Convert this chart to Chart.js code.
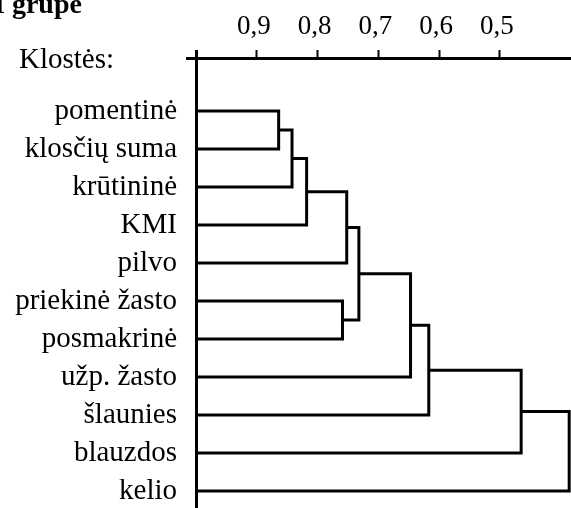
<!DOCTYPE html>
<html lang="lt">
<head>
<meta charset="UTF-8">
<title>Klostės</title>
<style>
  html, body { margin: 0; padding: 0; background: #fff; }
  #box { width: 571px; height: 508px; }
</style>
</head>
<body>
<div id="box"><canvas id="grafikas" width="571" height="508"></canvas></div>
<script src="https://cdn.jsdelivr.net/npm/chart.js"></script>
<script>
// lapai (kintamieji) iš viršaus į apačią
const lapai = ['pomentinė', 'klosčių suma', 'krūtininė', 'KMI', 'pilvo',
  'priekinė žasto', 'posmakrinė', 'užp. žasto', 'šlaunies', 'blauzdos', 'kelio'];

// jungimai: mazgai 0-10 yra lapai, kiekvienas jungimas sukuria naują mazgą 11, 12, ...
const jungA = [0, 11, 12, 5, 13, 15, 16, 17, 18, 19];
const jungB = [1, 2, 3, 6, 4, 14, 7, 8, 9, 10];
const jungAukstis = [0.864, 0.842, 0.818, 0.759, 0.752, 0.732, 0.647, 0.617, 0.465, 0.386];

// ašies žymos
const asiesZymos = [0.9, 0.8, 0.7, 0.6, 0.5];

const xMax = 1.0;
const xMin = 0.383;
const yMin = -1.395;
const yMax = 10.447;

// mazgų padėtys
const mazgoY = lapai.map((_, i) => i);
const mazgoH = lapai.map(() => 1.0);
const linijos = [];
for (let i = 0; i < jungA.length; i++) {
  const a = jungA[i], b = jungB[i], h = jungAukstis[i];
  linijos.push({
    data: [
      { x: mazgoH[a], y: mazgoY[a] },
      { x: h, y: mazgoY[a] },
      { x: h, y: mazgoY[b] },
      { x: mazgoH[b], y: mazgoY[b] }
    ],
    showLine: true,
    borderColor: '#000',
    borderWidth: 3,
    borderJoinStyle: 'miter',
    pointRadius: 0,
    fill: false
  });
  mazgoY.push((mazgoY[a] + mazgoY[b]) / 2);
  mazgoH.push(h);
}

const tekstai = {
  id: 'tekstai',
  afterDraw(chart) {
    const ctx = chart.ctx;
    ctx.save();
    ctx.fillStyle = '#000';
    ctx.textBaseline = 'alphabetic';
    ctx.textAlign = 'left';
    ctx.font = 'bold 28px "Liberation Serif", serif';
    ctx.fillText('I grupė', -6, 13);
    ctx.font = '29px "Liberation Serif", serif';
    ctx.fillText('Klostės:', 19, 68);
    ctx.restore();
  }
};

const ctx = document.getElementById('grafikas').getContext('2d');
new Chart(ctx, {
  type: 'scatter',
  data: { datasets: linijos },
  options: {
    responsive: false,
    animation: false,
    layout: { padding: 0 },
    plugins: { legend: { display: false }, tooltip: { enabled: false } },
    scales: {
      x: {
        type: 'linear',
        position: 'top',
        reverse: true,
        min: xMin,
        max: xMax,
        afterBuildTicks(scale) {
          scale.ticks = [{ value: xMax }].concat(asiesZymos.map(v => ({ value: v })));
        },
        afterFit(scale) {
          scale.height = 58;
          scale.paddingLeft = 0;
          scale.paddingRight = 0;
        },
        border: { display: true, color: '#000', width: 3 },
        grid: {
          drawOnChartArea: false,
          drawTicks: true,
          tickLength: 8,
          tickColor: '#000',
          tickWidth: c => (c.tick && c.tick.value === xMax ? 3 : 2)
        },
        ticks: {
          autoSkip: false,
          maxRotation: 0,
          padding: 7,
          labelOffset: -3,
          color: '#000',
          font: { family: '"Liberation Serif", serif', size: 27 },
          callback: v => (v === xMax ? '' : v.toFixed(1).replace('.', ','))
        }
      },
      y: {
        type: 'linear',
        position: 'left',
        reverse: true,
        min: yMin,
        max: yMax,
        afterBuildTicks(scale) {
          scale.ticks = [{ value: yMin }].concat(lapai.map((_, i) => ({ value: i })));
        },
        afterFit(scale) {
          scale.width = 196;
          scale.paddingTop = 0;
          scale.paddingBottom = 0;
        },
        border: { display: true, color: '#000', width: 3 },
        grid: {
          drawOnChartArea: false,
          drawTicks: true,
          tickLength: 10,
          tickWidth: 3,
          tickColor: c => (c.tick && c.tick.value === yMin ? '#000' : 'rgba(0,0,0,0)')
        },
        ticks: {
          autoSkip: false,
          padding: 9,
          color: '#000',
          font: { family: '"Liberation Serif", serif', size: 29 },
          callback: v => (v === yMin ? '' : lapai[v])
        }
      }
    }
  },
  plugins: [tekstai]
});
</script>
</body>
</html>
